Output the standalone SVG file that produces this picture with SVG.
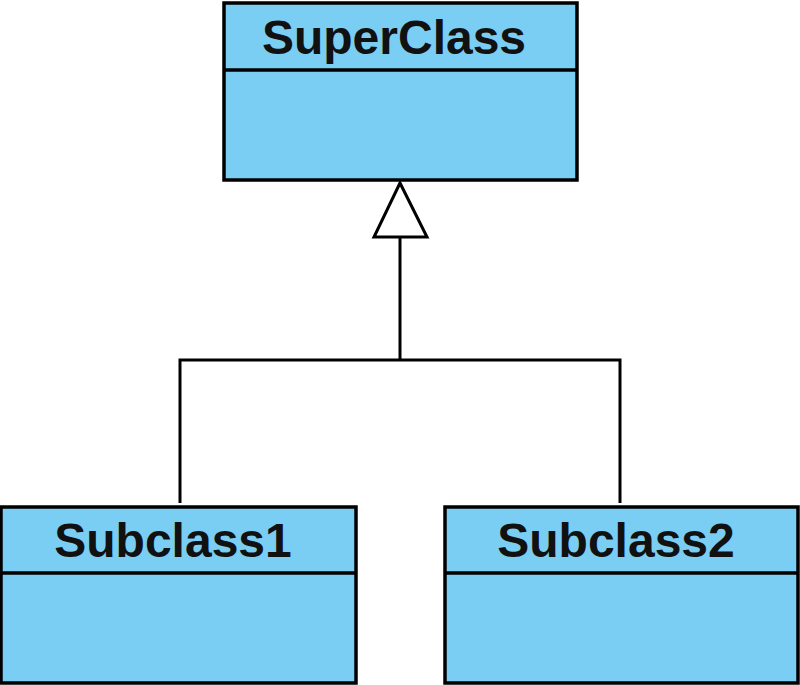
<svg xmlns="http://www.w3.org/2000/svg" width="800" height="685" viewBox="0 0 800 685">
<style>
.box{fill:#7acef4;stroke:#000;stroke-width:3.5}
.div{stroke:#000;stroke-width:3.5}
.lbl{font-family:"Liberation Sans",Arial,sans-serif;font-weight:bold;font-size:48px;fill:#111;text-anchor:middle}
.con{fill:none;stroke:#000;stroke-width:3}
</style>
<rect width="800" height="685" fill="#fff"/>
<g id="connectors">
<polyline class="con" points="180,503 180,360 620,360 620,503"/>
<line class="con" x1="400" y1="360" x2="400" y2="237"/>
<polygon points="400,183 374,237 427,237" fill="#fff" stroke="#000" stroke-width="3" stroke-linejoin="miter"/>
</g>
<g id="SuperClass">
<rect class="box" x="224" y="3" width="353" height="177"/>
<line class="div" x1="224" y1="70" x2="577" y2="70"/>
<text class="lbl" x="394" y="54">SuperClass</text>
</g>
<g id="Subclass1">
<rect class="box" x="1" y="507" width="355" height="176"/>
<line class="div" x1="1" y1="573" x2="356" y2="573"/>
<text class="lbl" x="173" y="557">Subclass1</text>
</g>
<g id="Subclass2">
<rect class="box" x="445" y="507" width="353" height="176"/>
<line class="div" x1="445" y1="573" x2="798" y2="573"/>
<text class="lbl" x="616" y="557">Subclass2</text>
</g>
</svg>
